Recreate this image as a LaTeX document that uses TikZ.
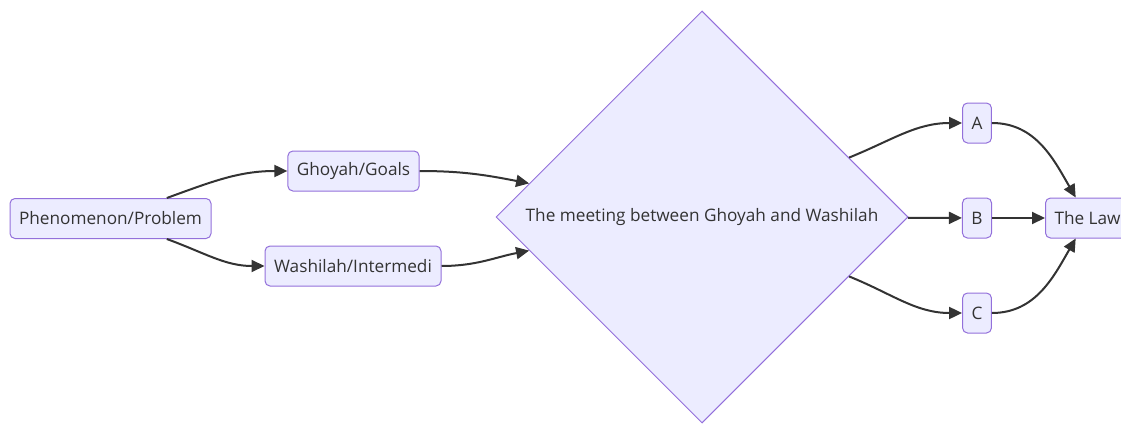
\documentclass[tikz,border=0pt]{standalone}
\usepackage{fontspec}
\setmainfont{Open Sans}
\usetikzlibrary{arrows.meta,shapes.geometric}
\definecolor{boxfill}{HTML}{ECECFF}
\definecolor{boxline}{HTML}{9370DB}
\definecolor{edgecol}{HTML}{333333}

\begin{document}
\begin{tikzpicture}[x=1pt, y=1pt, font=\fontsize{17.2}{20}\selectfont, text=edgecol,
  main/.style = {draw=boxline, fill=boxfill, line width=1pt, rounded corners=5pt, minimum height=40pt, inner xsep=9pt},
  meet/.style = {draw=boxline, fill=boxfill, line width=1pt, diamond, aspect=1, minimum width=412pt, minimum height=412pt, inner sep=0pt},
  link/.style = {draw=edgecol, line width=2pt, -{Triangle[length=13pt,width=12pt]}}]
\clip (0,0) rectangle (1121,424);
\node[main, minimum width=201pt] (p) at (110.5,205.5) {Phenomenon/Problem};
\node[main, minimum width=131pt] (g) at (353.5,253) {Ghoyah/Goals};
\node[main, minimum width=176pt] (w) at (353,158) {Washilah/Intermedi};
\node[meet] (d) at (702,207) {The meeting between Ghoyah and Washilah};

\node[main, minimum width=28pt] (a) at (977,301) {A};
\node[main, minimum width=28pt] (b) at (977,206) {B};
\node[main, minimum width=28pt] (c) at (977,111) {C};
\node[main, anchor=west] (law) at (1045,206) {The Law};

\draw[link] (p) to [out = 20, in = 180] (g);
\draw[link] (p) to [out = -20, in = 180] (w);
\draw[link] (g) to [out = 0, in = 169] (d);
\draw[link] (w) to [out = 0, in = 191] (d);

\draw[link] (d) to [out = 22, in = 180] (a);
\draw[link] (d) -- (b);
\draw[link] (d) to [out = -22, in = 180] (c);

\draw[link] (a) to [out = 0, in = 120] (law);
\draw[link] (b) -- (law);
\draw[link] (c) to [out = 0, in = 240] (law);
\end{tikzpicture}
\end{document}
